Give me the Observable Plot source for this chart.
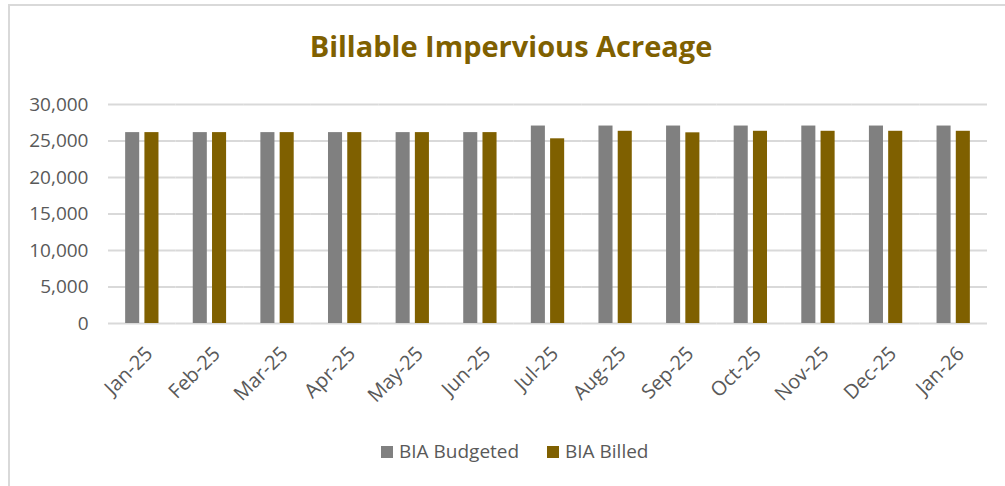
<!DOCTYPE html>
<html>
<head>
<meta charset="utf-8">
<script src="https://cdn.jsdelivr.net/npm/d3@7"></script>
<script src="https://cdn.jsdelivr.net/npm/@observablehq/plot@0.6"></script>
<style>
  html, body { margin: 0; padding: 0; background: #fff; }
  #frame { position: relative; width: 1005px; height: 486px; overflow: hidden; font-family: "Open Sans", sans-serif; }
  #border { position: absolute; left: 8px; top: 4px; right: -10px; bottom: -10px; border-left: 2px solid #d9d9d9; border-top: 2px solid #d9d9d9; }
  #title { position: absolute; left: 0; width: 1022px; top: 26px; text-align: center; font-weight: 700; font-size: 29px; color: #7F6000; line-height: 40px; }
  #chart { position: absolute; left: 0; top: 80px; }
  #legend { position: absolute; top: 438px; left: 0; width: 1005px; height: 28px; }
  .item { position: absolute; top: 0; font-size: 19px; color: #595959; line-height: 26px; white-space: nowrap; }
  .sw { display: inline-block; width: 12px; height: 12px; margin-right: 6px; vertical-align: 0px; }
</style>
</head>
<body>
<div id="frame">
  <div id="border"></div>
  <div id="title">Billable Impervious Acreage</div>
  <div id="chart"></div>
  <div id="legend"></div>
</div>
<script>
const months = ["Jan-25","Feb-25","Mar-25","Apr-25","May-25","Jun-25","Jul-25","Aug-25","Sep-25","Oct-25","Nov-25","Dec-25","Jan-26"];
const series = ["BIA Budgeted","BIA Billed"];
const colors = ["#808080","#7F6000"];
const budgeted = [26150,26150,26150,26150,26150,26150,27050,27050,27050,27050,27050,27050,27050];
const billed   = [26150,26150,26150,26150,26150,26150,25300,26330,26120,26330,26330,26330,26330];
const yTicks = [0,5000,10000,15000,20000,25000,30000];

const data = [];
months.forEach((m, i) => {
  data.push({month: m, series: series[0], value: budgeted[i]});
  data.push({month: m, series: series[1], value: billed[i]});
});

const chart = Plot.plot({
  width: 1005,
  height: 340,
  marginLeft: 108,
  marginRight: 18,
  marginTop: 24,
  marginBottom: 97,
  style: {fontFamily: "Open Sans, sans-serif", fontSize: "19px", color: "#595959", background: "transparent"},
  fx: {domain: months, padding: 0, round: false, label: null, axis: null},
  x: {domain: series, paddingInner: 0.27, paddingOuter: 0.89, round: false, axis: null},
  y: {domain: [0, 30000], label: null, axis: null},
  color: {domain: series, range: colors},
  marks: [
    Plot.gridY(yTicks, {stroke: "#d9d9d9", strokeOpacity: 1, strokeWidth: 2}),
    Plot.axisY(yTicks, {tickSize: 0, tickPadding: 20, tickFormat: d3.format(","), label: null, fontSize: 19}),
    Plot.axisFx({anchor: "bottom", tickRotate: -45, tickSize: 0, tickPadding: 27, dx: 7, label: null, fontSize: 20}),
    Plot.barY(data, {fx: "month", x: "series", y: "value", fill: "series"})
  ]
});
document.getElementById("chart").appendChild(chart);

const legend = document.getElementById("legend");
const lefts = [381, 547];
series.forEach((s, i) => {
  const d = document.createElement("div");
  d.className = "item";
  d.style.left = lefts[i] + "px";
  const sw = document.createElement("span");
  sw.className = "sw";
  sw.style.background = colors[i];
  d.appendChild(sw);
  d.appendChild(document.createTextNode(s));
  legend.appendChild(d);
});
</script>
</body>
</html>
